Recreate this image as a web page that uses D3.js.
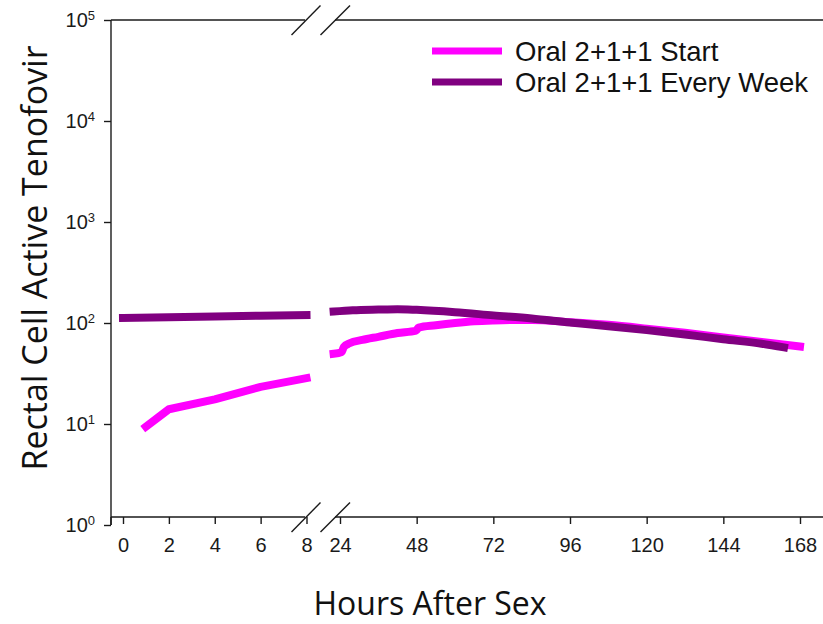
<!DOCTYPE html>
<html>
<head>
<meta charset="utf-8">
<script src="https://cdn.jsdelivr.net/npm/d3@7"></script>
<style>
  html, body { margin: 0; padding: 0; background: #fff; }
  svg { display: block; }
</style>
</head>
<body>
<svg id="chart" width="823" height="624"></svg>
<script>
// Hours after sex and rectal-cell active tenofovir levels for two dosing regimens.
// The time axis is broken between 8 h and 24 h, so each series has an early and a late part.
const seriesNames = ["Oral 2+1+1 Start", "Oral 2+1+1 Every Week"];
const seriesColors = ["#ff00ff", "#800080"];

const startEarlyHours  = [1, 2, 4, 6, 8];
const startEarlyValues = [9.4, 14, 17.5, 23.3, 28.5];
const startLateHours   = [22, 24.5, 25.2, 27, 31, 36, 42, 47.8, 48.6, 54, 60, 66, 72, 78, 84, 96, 108, 120, 132, 144, 156, 168];
const startLateValues  = [49.5, 51.5, 58, 63, 68, 73, 79.5, 84, 90, 95, 100, 104, 106, 107, 107, 102, 96, 88, 80, 72, 65, 58.5];

const weeklyEarlyHours  = [0, 2, 4, 6, 8];
const weeklyEarlyValues = [112, 114, 116, 118, 120];
const weeklyLateHours   = [22, 28, 36, 42, 48, 60, 72, 84, 96, 108, 120, 132, 144, 156, 163];
const weeklyLateValues  = [130, 134, 136, 137, 135, 128, 119, 111, 101, 93, 85, 77, 69, 62.4, 57.3];

const earlyTicks = [0, 2, 4, 6, 8];
const lateTicks  = [24, 48, 72, 96, 120, 144, 168];
const yTicks     = [1, 10, 100, 1000, 10000, 100000];

const svg = d3.select("#chart");
const W = 823;
const axisX = 111;        // left (y) axis position
const xAxisY = 517;       // bottom axis line
const topY = 20;          // top frame line
const breakL = 305, breakR = 335;   // gap in the frame lines

const y = d3.scaleLog().domain([1, 1e5]).range([525, 20]);
const xEarly = d3.scaleLinear().domain([0, 8]).range([123, 306.5]);
const xLate  = d3.scaleLinear().domain([24, 168]).range([340, 800]);

const ink = "#1a1a1a";
const tickFont = "'Liberation Sans', Arial, sans-serif";
const titleFont = "'Open Sans', sans-serif";

// Frame lines with the break gap
const frame = svg.append("g").attr("stroke", ink).attr("stroke-width", 1.4).attr("fill", "none");
[xAxisY, topY].forEach(yy => {
  frame.append("line").attr("x1", axisX).attr("x2", breakL).attr("y1", yy).attr("y2", yy);
  frame.append("line").attr("x1", breakR).attr("x2", W).attr("y1", yy).attr("y2", yy);
  // break marks
  frame.append("line").attr("x1", breakL - 13.5).attr("y1", yy + 15).attr("x2", breakL + 15.5).attr("y2", yy - 14.5);
  frame.append("line").attr("x1", breakR - 14.5).attr("y1", yy + 15).attr("x2", breakR + 15).attr("y2", yy - 14.5);
});

// Y axis (log)
const yAxis = d3.axisLeft(y).tickValues(yTicks).tickSize(7).tickFormat("");
const gy = svg.append("g").attr("transform", `translate(${axisX},0)`).call(yAxis);
gy.select(".domain").attr("stroke", ink).attr("stroke-width", 1.4).attr("d", `M0,${y(1)}V${y(1e5)}`);
gy.selectAll(".tick line").attr("stroke", ink).attr("stroke-width", 1.4);

const yLab = svg.append("g").attr("font-family", tickFont).attr("fill", ink);
yTicks.forEach(v => {
  const t = yLab.append("text")
    .attr("x", axisX - 16).attr("y", y(v) + 7)
    .attr("text-anchor", "end").attr("font-size", 20);
  t.append("tspan").text("10");
  t.append("tspan").attr("font-size", 13).attr("dy", -7).text(Math.round(Math.log10(v)));
});

// X axes (two pieces)
function xAxisPart(scale, ticks) {
  const ax = d3.axisBottom(scale).tickValues(ticks).tickSize(7).tickPadding(14).tickFormat(d3.format("d"));
  const g = svg.append("g").attr("transform", `translate(0,${xAxisY})`).call(ax);
  g.select(".domain").remove();
  g.selectAll(".tick line").attr("stroke", ink).attr("stroke-width", 1.4);
  g.selectAll(".tick text").attr("font-family", tickFont).attr("font-size", 20).attr("fill", ink);
}
xAxisPart(xEarly, earlyTicks);
xAxisPart(xLate, lateTicks);

// Vertical extension of the y axis below the x axis to the 10^0 tick
svg.append("line").attr("x1", axisX).attr("x2", axisX).attr("y1", xAxisY).attr("y2", y(1))
  .attr("stroke", ink).attr("stroke-width", 1.4);

// Series lines
function drawPart(xs, hours, values, color, curve) {
  const pts = hours.map((h, i) => [xs(h), y(values[i])]);
  const line = d3.line().curve(curve);
  svg.append("path").attr("d", line(pts))
    .attr("fill", "none").attr("stroke", color).attr("stroke-width", 8)
    .attr("stroke-linecap", "square").attr("stroke-linejoin", "round");
}
drawPart(xEarly, startEarlyHours, startEarlyValues, seriesColors[0], d3.curveLinear);
drawPart(xLate, startLateHours, startLateValues, seriesColors[0], d3.curveMonotoneX);
drawPart(xEarly, weeklyEarlyHours, weeklyEarlyValues, seriesColors[1], d3.curveLinear);
drawPart(xLate, weeklyLateHours, weeklyLateValues, seriesColors[1], d3.curveMonotoneX);

// Legend
const legend = svg.append("g");
seriesNames.forEach((name, i) => {
  const ly = 51 + i * 31;
  legend.append("line").attr("x1", 432).attr("x2", 502).attr("y1", ly).attr("y2", ly)
    .attr("stroke", seriesColors[i]).attr("stroke-width", 7);
  legend.append("text").attr("x", 515).attr("y", ly + 9.5)
    .attr("font-family", tickFont).attr("font-size", 27.5).attr("fill", "#111").text(name);
});

// Axis titles
svg.append("text")
  .attr("transform", "translate(47,258) rotate(-90)")
  .attr("text-anchor", "middle")
  .attr("font-family", titleFont).attr("font-size", 34).attr("fill", "#111")
  .text("Rectal Cell Active Tenofovir");

svg.append("text")
  .attr("x", 430).attr("y", 615)
  .attr("text-anchor", "middle")
  .attr("font-family", titleFont).attr("font-size", 32).attr("fill", "#111")
  .text("Hours After Sex");
</script>
</body>
</html>
